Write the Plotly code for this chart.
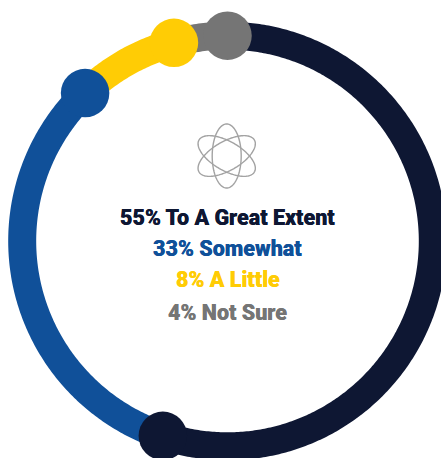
import numpy as np
import plotly.graph_objects as go

labels = ["To A Great Extent", "Somewhat", "A Little", "Not Sure"]
values = [55, 33, 8, 4]
arc_shares = [55.1, 32.7, 8.0, 4.2]   # spans as drawn in the picture
colors = ["#0E1733", "#105099", "#FFCC05", "#757575"]

W, H = 441, 458
CX, CY, R = 227.5, 241, 205.3
RING = 28
CAP = 48.5
TEXT_Y = [217, 248, 279, 312]

def pos(pct):
    a = np.radians(np.asarray(pct, dtype=float) * 3.6)
    return CX + R * np.sin(a), CY - R * np.cos(a)

fig = go.Figure()
start = 0
ends = []
for v, c in zip(arc_shares, colors):
    t = np.linspace(start, start + v, max(24, int(v * 6)))
    x, y = pos(t)
    fig.add_trace(go.Scatter(x=x, y=y, mode="lines",
                             line=dict(color=c, width=RING, simplify=False),
                             hoverinfo="skip", showlegend=False))
    start += v
    ends.append(start)
for e, c in zip(ends, colors):
    x, y = pos([e])
    fig.add_trace(go.Scatter(x=x, y=y, mode="markers", marker=dict(color=c, size=CAP, line=dict(width=0)),
                             hoverinfo="skip", showlegend=False))

# atom icon
th = np.linspace(0, 2 * np.pi, 121)
for rot in (0, 60, 120):
    r = np.radians(rot)
    ex, ey = 14.5 * np.cos(th), 32 * np.sin(th)
    fig.add_trace(go.Scatter(x=226.7 + ex * np.cos(r) - ey * np.sin(r),
                             y=156 + ex * np.sin(r) + ey * np.cos(r),
                             mode="lines", line=dict(color="#A3A3A3", width=1.4, simplify=False),
                             hoverinfo="skip", showlegend=False))

for lab, v, c, y in zip(labels, values, colors, TEXT_Y):
    fig.add_annotation(x=227.5, y=y, text=f"{v}% {lab}", showarrow=False,
                       font=dict(family="Roboto", size=21.5, color=c, weight=900,
                                 shadow=f"0 0 0.6px {c}"),
                       xanchor="center", yanchor="middle")

fig.update_layout(width=W, height=H, margin=dict(l=0, r=0, t=0, b=0),
                  paper_bgcolor="white", plot_bgcolor="white", showlegend=False,
                  xaxis=dict(range=[0, W], visible=False, fixedrange=True),
                  yaxis=dict(range=[H, 0], visible=False, fixedrange=True))
fig.write_html("out.html", config={"displayModeBar": False},
               post_script="document.body.style.margin='0';document.documentElement.style.overflow='hidden';")
